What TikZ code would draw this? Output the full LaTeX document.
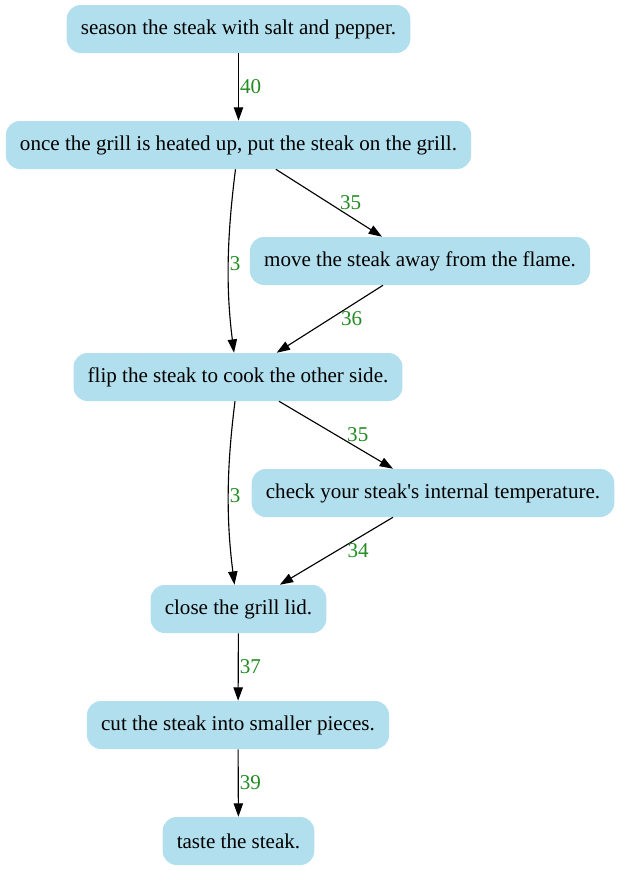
\documentclass[tikz,border=0pt]{standalone}
\usepackage{fontspec}
\setmainfont{Liberation Serif}[Ligatures=TeXOff]
\usepackage{xcolor}
\usepackage{tikz}
\usetikzlibrary{arrows.meta}
\usetikzlibrary{shapes}

\definecolor{lightbluetwo}{HTML}{B2DFEE}
\definecolor{forestgreen}{HTML}{228B22}

\tikzset{
  stepnode/.style={rectangle, rounded corners=10.5pt, fill=lightbluetwo,
    minimum height=36pt, inner xsep=10.6pt, inner ysep=0pt,
    font=\fontsize{15.8pt}{18pt}\selectfont},
  flow/.style={-{Triangle[length=10pt,width=7pt]}, line width=0.85pt},
  weight/.style={text=forestgreen, font=\fontsize{15.8pt}{18pt}\selectfont,
    anchor=west, inner sep=0pt}
}

\begin{document}
\begin{tikzpicture}[x=0.75pt, y=-0.75pt]
        \useasboundingbox (0, 0) rectangle (619, 871);

        \node[stepnode] (season) at (238.5, 29) {season the steak with salt and pepper.};
        \node[stepnode] (grill) at (238.5, 145) {once the grill is heated up, put the steak on the grill.};
        \node[stepnode] (move) at (420, 261) {move the steak away from the flame.};
        \node[stepnode] (flip) at (238, 377) {flip the steak to cook the other side.};
        \node[stepnode] (check) at (433, 493) {check your steak's internal temperature.};
        \node[stepnode] (close) at (238.5, 609) {close the grill lid.};
        \node[stepnode] (cut) at (238, 725) {cut the steak into smaller pieces.};
        \node[stepnode] (taste) at (238.5, 841) {taste the steak.};

        \draw[flow] (season) -- node[weight, xshift=0.75pt] {40} (grill);
        \draw[flow] ([xshift=-2.25pt]grill.south) .. controls +(-9, 71) and +(-8, -63) ..
            ([xshift=-3pt]flip.north) node[weight, pos=0.5, xshift=0.75pt] {3};
        \draw[flow] ([xshift=28pt]grill.south) -- node[weight, xshift=8pt] {35}
            ([xshift=-28.5pt]move.north);
        \draw[flow] ([xshift=-27.75pt]move.south) -- node[weight, xshift=8pt] {36}
            ([xshift=29pt]flip.north);

        \draw[flow] ([xshift=-2.25pt]flip.south) .. controls +(-9, 71) and +(-8, -63) ..
            ([xshift=-3pt]close.north) node[weight, pos=0.5, xshift=0.75pt] {3};
        \draw[flow] ([xshift=30.75pt]flip.south) -- node[weight, xshift=8pt] {35}
            ([xshift=-30pt]check.north);
        \draw[flow] ([xshift=-30pt]check.south) -- node[weight, xshift=8pt] {34}
            ([xshift=31pt]close.north);

        \draw[flow] (close) -- node[weight, xshift=0.75pt] {37} (cut);
        \draw[flow] (cut) -- node[weight, xshift=0.75pt] {39} (taste);
\end{tikzpicture}
\end{document}
